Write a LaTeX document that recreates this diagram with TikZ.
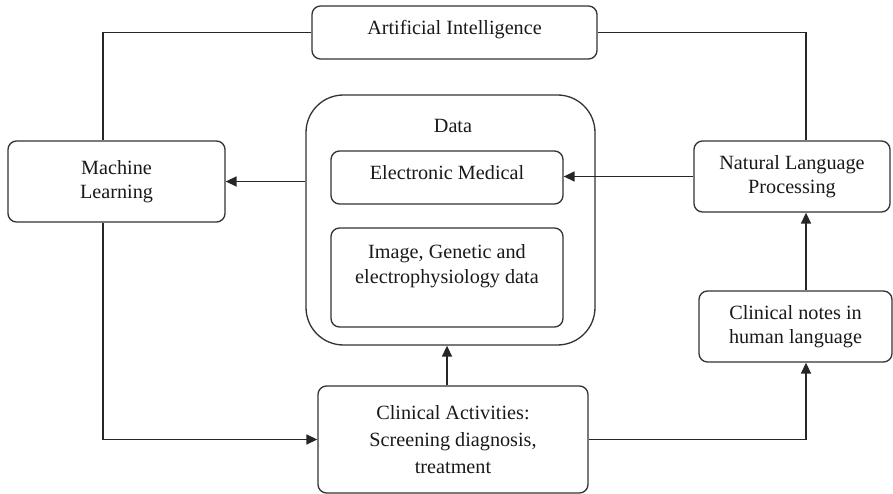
\documentclass[tikz,border=0pt]{standalone}
\usepackage{fontspec}
\setmainfont{Liberation Serif}
\usepackage{tikz}
\usetikzlibrary{positioning,arrows.meta}
\usetikzlibrary{shapes.geometric}

\begin{document}
\begin{tikzpicture}[
    box/.style={draw, rounded corners=0.17cm, line width=0.75pt, black!80, text=black!90, align=center, font=\fontsize{11.5}{13.5}\selectfont, inner sep=2pt},
    arrow/.style={line width=0.85pt, black!85, -{Triangle[length=0.22cm,width=0.2cm]}},
    link/.style={line width=0.85pt, black!85}]
\useasboundingbox (0,0) rectangle (17.86,-9.88);
\coordinate (lline) at (2.06,0);
\coordinate (rline) at (16.12,0);
\node[box, minimum width=5.70cm, minimum height=1.06cm, text depth=0.22cm] (ai) at (9.09,-0.65) 
    {Artificial Intelligence};
\node[box, minimum width=4.34cm, minimum height=1.62cm] (ml) at (2.33,-3.63) 
    {Machine\\Learning};
\node[box, rounded corners=0.75cm, minimum width=5.78cm, minimum height=5.0cm] (data) at (9.01,-4.40) {};
\node[align=center, font=\fontsize{11.5}{13.5}\selectfont, text=black!90] (datalbl) at (9.06,-2.52) 
    {Data};
\node[box, minimum width=4.64cm, minimum height=1.06cm, text depth=0.22cm] (emr) at (8.94,-3.55) 
    {Electronic Medical};
\node[box, minimum width=4.64cm, minimum height=1.98cm, text depth=0.55cm, font=\fontsize{11.5}{14.5}\selectfont] (img) at (8.94,-5.55) 
    {Image, Genetic and\\electrophysiology data};
\node[box, minimum width=3.92cm, minimum height=1.42cm] (nlp) at (15.84,-3.53) 
    {Natural Language\\Processing};
\node[box, minimum width=3.86cm, minimum height=1.42cm] (notes) at (15.91,-6.53) 
    {Clinical notes in\\human language};
\node[box, minimum width=5.40cm, minimum height=2.14cm, font=\fontsize{11.5}{15.5}\selectfont] (ca) at (9.06,-8.79) 
    {Clinical Activities:\\Screening diagnosis,\\treatment};

\draw[link] (ai.west) -| (ml.north -| lline);
\draw[link] (ai.east) -| (nlp.north -| rline);
\draw[arrow] (ml.east -| data.west) -- (ml.east);
\draw[arrow] (nlp.west) -- (nlp.west -| emr.east);
\draw[arrow] (ml.south -| lline) |- (ca.west);
\draw[arrow] (ca.north -| emr.center) -- (data.south -| emr.center);
\draw[arrow] (ca.east) -| (notes.south -| rline);
\draw[arrow] (notes.north -| rline) -- (nlp.south -| rline);
\end{tikzpicture}
\end{document}
